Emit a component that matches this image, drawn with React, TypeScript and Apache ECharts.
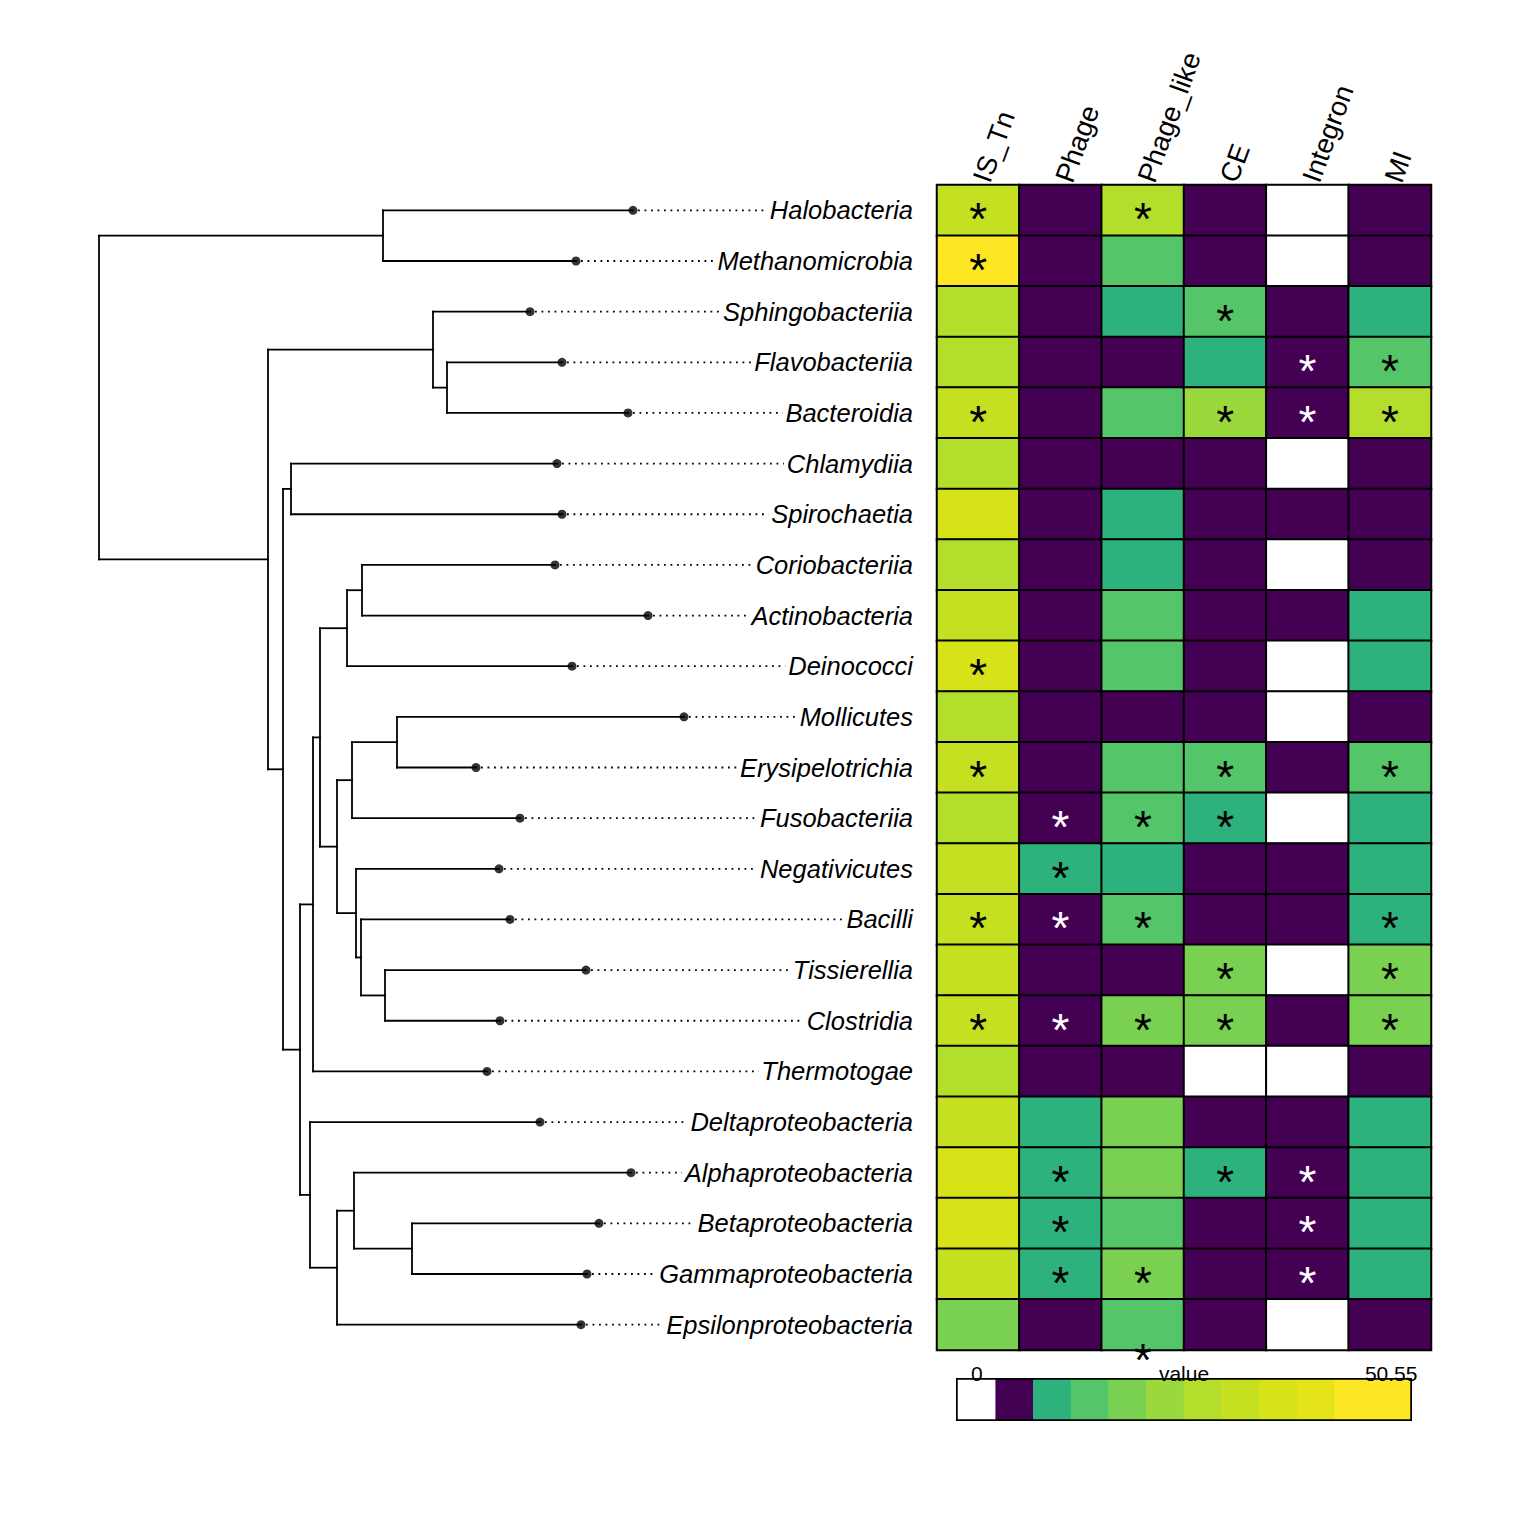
import React, { useEffect, useRef } from "react";
import * as echarts from "echarts";

// ---------- data ----------
const taxa = [
  "Halobacteria", "Methanomicrobia", "Sphingobacteriia", "Flavobacteriia", "Bacteroidia",
  "Chlamydiia", "Spirochaetia", "Coriobacteriia", "Actinobacteria", "Deinococci",
  "Mollicutes", "Erysipelotrichia", "Fusobacteriia", "Negativicutes", "Bacilli",
  "Tissierellia", "Clostridia", "Thermotogae", "Deltaproteobacteria", "Alphaproteobacteria",
  "Betaproteobacteria", "Gammaproteobacteria", "Epsilonproteobacteria",
];
// leaf tip distance from the root (tree units)
const leafTips = [
  53.4, 47.7, 43.1, 46.3, 52.9, 45.8, 46.3, 45.6, 54.9, 47.3, 58.5, 37.7,
  42.1, 40.0, 41.1, 48.7, 40.1, 38.8, 44.1, 53.2, 50.0, 48.8, 48.2,
];
// internal nodes: [id, distance from root, child 1, child 2]
const internalNodes: [string, number, string, string][] = [
  ["root", 0, "A", "B"],
  ["A", 28.4, "Halobacteria", "Methanomicrobia"],
  ["B", 16.9, "C", "D"],
  ["C", 33.4, "Sphingobacteriia", "E"],
  ["E", 34.8, "Flavobacteriia", "Bacteroidia"],
  ["D", 18.4, "F", "G"],
  ["F", 19.2, "Chlamydiia", "Spirochaetia"],
  ["G", 20.1, "H", "I"],
  ["H", 21.4, "J", "Thermotogae"],
  ["J", 22.1, "K", "L"],
  ["K", 24.8, "M", "Deinococci"],
  ["M", 26.3, "Coriobacteriia", "Actinobacteria"],
  ["L", 23.8, "N", "O"],
  ["N", 25.3, "P", "Fusobacteriia"],
  ["P", 29.8, "Mollicutes", "Erysipelotrichia"],
  ["O", 25.7, "Negativicutes", "Q"],
  ["Q", 26.2, "Bacilli", "R"],
  ["R", 28.6, "Tissierellia", "Clostridia"],
  ["I", 21.1, "Deltaproteobacteria", "S"],
  ["S", 23.8, "T", "Epsilonproteobacteria"],
  ["T", 25.5, "Alphaproteobacteria", "U"],
  ["U", 31.3, "Betaproteobacteria", "Gammaproteobacteria"],
];
const treeMax = 81.4;

const elements = ["IS_Tn", "Phage", "Phage_like", "CE", "Integron", "MI"];
const isTn = [31.5, 45, 27.5, 27.5, 31.5, 27.5, 35.5, 27.5, 31.5, 35.5, 27.5, 31.5, 27.5, 31.5, 31.5, 31.5, 31.5, 27.5, 31.5, 35.5, 35.5, 31.5, 19];
const phage = [6, 6, 6, 6, 6, 6, 6, 6, 6, 6, 6, 6, 6, 10.5, 6, 6, 6, 6, 10.5, 10.5, 10.5, 10.5, 6];
const phageLike = [27.5, 14.5, 10.5, 6, 14.5, 6, 10.5, 10.5, 14.5, 14.5, 6, 14.5, 14.5, 10.5, 14.5, 6, 19, 6, 19, 19, 14.5, 19, 14.5];
const ce = [6, 6, 14.5, 10.5, 23, 6, 6, 6, 6, 6, 6, 14.5, 10.5, 6, 6, 19, 19, 0, 6, 10.5, 6, 6, 6];
const integron = [0, 0, 6, 6, 6, 0, 6, 0, 6, 0, 0, 6, 0, 6, 6, 0, 6, 0, 6, 6, 6, 6, 0];
const mi = [6, 6, 10.5, 14.5, 27.5, 6, 6, 6, 10.5, 10.5, 6, 14.5, 10.5, 10.5, 10.5, 19, 19, 6, 10.5, 10.5, 10.5, 10.5, 6];
const columnValues = [isTn, phage, phageLike, ce, integron, mi];

// significant cells (row indices) per column
const starIsTn = [0, 1, 4, 9, 11, 14, 16];
const starPhage = [12, 13, 14, 16, 19, 20, 21];
const starPhageLike = [0, 12, 14, 16, 21, 22];
const starCe = [2, 4, 11, 12, 15, 16, 19];
const starIntegron = [3, 4, 19, 20, 21];
const starMi = [3, 4, 11, 14, 15, 16];
const columnStars = [starIsTn, starPhage, starPhageLike, starCe, starIntegron, starMi];
// star drawn below its cell in the original: [column, row]
const displacedStars = [[2, 22]];

const breaks = [0, 4.21, 8.43, 12.64, 16.85, 21.06, 25.28, 29.49, 33.7, 37.91, 42.13, 46.34, 50.55];
const binColors = [
  "#FFFFFF", "#440154", "#2DB27D", "#54C568", "#7AD151", "#9AD83C",
  "#B4DE2C", "#C5E021", "#D8E219", "#E5E419", "#FDE725", "#FDE725",
];
const legendMinLabel = "0";
const legendMaxLabel = "50.55";
const legendTitle = "value";

const FONT = '"Liberation Sans", Arial, sans-serif';

function buildTree() {
  const pos: Record<string, { x: number; y: number }> = {};
  taxa.forEach((t, i) => (pos[t] = { x: leafTips[i], y: i }));
  const byId: Record<string, [string, number, string, string]> = {};
  internalNodes.forEach((n) => (byId[n[0]] = n));
  const resolve = (id: string): { x: number; y: number } => {
    if (pos[id]) return pos[id];
    const n = byId[id];
    const a = resolve(n[2]);
    const b = resolve(n[3]);
    pos[id] = { x: n[1], y: (a.y + b.y) / 2 };
    return pos[id];
  };
  resolve("root");
  const segs: number[][] = [];
  internalNodes.forEach((n) => {
    const p = pos[n[0]];
    const a = pos[n[2]];
    const b = pos[n[3]];
    segs.push([p.x, a.y, p.x, b.y]);
    segs.push([p.x, a.y, a.x, a.y]);
    segs.push([p.x, b.y, b.x, b.y]);
  });
  return segs;
}

export default function App() {
  const ref = useRef<HTMLDivElement>(null);
  useEffect(() => {
    if (!ref.current) return;
    const chart = echarts.init(ref.current, null, { renderer: "svg" });
    const segs = buildTree();

    const heatData: any[] = [];
    columnValues.forEach((vals, c) => {
      vals.forEach((v, r) => {
        const starred = columnStars[c].includes(r);
        const displaced = displacedStars.some((d) => d[0] === c && d[1] === r);
        const purple = v >= breaks[1] && v < breaks[2];
        heatData.push({
          value: [c, r, v],
          label: {
            show: starred,
            formatter: "*",
            color: purple ? "#FFFFFF" : "#000000",
            offset: displaced ? [0, 35] : [0, 9],
          },
        });
      });
    });

    const legendData = binColors.map((_, i) => [i, 0, (breaks[i] + breaks[i + 1]) / 2]);

    const pieces = binColors.map((color, i) =>
      i === binColors.length - 1
        ? { gte: breaks[i], lte: breaks[i + 1], color }
        : { gte: breaks[i], lt: breaks[i + 1], color }
    );

    chart.setOption({
      animation: false,
      backgroundColor: "#FFFFFF",
      grid: [
        { left: 99, top: 185, width: 814, height: 1165 },
        { left: 937, top: 185, width: 494, height: 1165 },
        { left: 958, top: 1380, width: 452, height: 39, show: true, borderColor: "#000", borderWidth: 4 },
      ],
      xAxis: [
        { gridIndex: 0, type: "value", min: 0, max: treeMax, show: false },
        {
          gridIndex: 1, type: "category", data: elements, position: "top",
          axisLine: { show: false }, axisTick: { show: false }, splitLine: { show: false },
          axisLabel: { show: false },
        },
        {
          gridIndex: 2, type: "category", data: binColors.map((_, i) => String(i)), position: "top",
          z: 10,
          axisLine: { show: false }, axisTick: { show: false }, splitLine: { show: false },
          axisLabel: {
            interval: 0, margin: -4, fontSize: 21, color: "#000", fontFamily: FONT,
            formatter: (_v: string, i: number) => (i === 0 ? legendMinLabel : i === binColors.length - 1 ? legendMaxLabel : ""),
          },
          name: legendTitle, nameLocation: "middle", nameGap: -4, nameMoveOverlap: false,
          nameTextStyle: { fontSize: 21, color: "#000", fontFamily: FONT, verticalAlign: "bottom" },
        },
      ],
      yAxis: [
        { gridIndex: 0, type: "value", min: -0.5, max: taxa.length - 0.5, inverse: true, show: false },
        {
          gridIndex: 1, type: "category", data: taxa, inverse: true,
          axisLine: { show: false }, axisTick: { show: false }, axisLabel: { show: false }, splitLine: { show: false },
        },
        { gridIndex: 2, type: "category", data: ["legend"], show: false },
      ],
      visualMap: {
        type: "piecewise", show: false, seriesIndex: [3, 4], pieces, dimension: 2,
      },
      series: [
        {
          type: "custom", xAxisIndex: 0, yAxisIndex: 0, data: segs, encode: { x: [0, 2], y: [1, 3] },
          renderItem: (_p: any, api: any) => {
            const a = api.coord([api.value(0), api.value(1)]);
            const b = api.coord([api.value(2), api.value(3)]);
            return {
              type: "line",
              shape: { x1: a[0], y1: a[1], x2: b[0], y2: b[1] },
              style: { stroke: "#000", lineWidth: 1.8, lineCap: "square" },
            };
          },
          z: 2,
        },
        {
          type: "custom", xAxisIndex: 0, yAxisIndex: 0,
          data: taxa.map((t, i) => [leafTips[i], i, t]),
          encode: { x: 0, y: 1 },
          renderItem: (params: any, api: any) => {
            const tip = api.coord([api.value(0), api.value(1)]);
            const end = api.coord([treeMax, api.value(1)]);
            const name = taxa[params.dataIndex];
            return {
              type: "group",
              children: [
                {
                  type: "line",
                  shape: { x1: tip[0] + 5, y1: tip[1], x2: end[0], y2: end[1] },
                  style: { stroke: "#000", lineWidth: 1.8, lineDash: [1.8, 4.7] },
                },
                {
                  type: "text",
                  x: end[0], y: end[1],
                  style: {
                    text: name, align: "right", verticalAlign: "middle", fill: "#000",
                    fontSize: 25.5, fontStyle: "italic", fontFamily: FONT,
                    backgroundColor: "#FFFFFF", padding: [0, 0, 0, 3],
                  },
                },
              ],
            };
          },
          z: 3,
        },
        {
          type: "scatter", xAxisIndex: 0, yAxisIndex: 0,
          data: taxa.map((_, i) => [leafTips[i], i]),
          symbol: "circle", symbolSize: 9, itemStyle: { color: "#000" }, z: 5,
        },
        {
          type: "heatmap", xAxisIndex: 1, yAxisIndex: 1, data: heatData,
          itemStyle: { borderColor: "#000", borderWidth: 2 },
          label: { show: false, fontSize: 46, fontFamily: FONT },
          emphasis: { disabled: true },
          z: 2,
        },
        {
          type: "heatmap", xAxisIndex: 2, yAxisIndex: 2, data: legendData,
          itemStyle: { borderWidth: 0 },
          emphasis: { disabled: true },
          z: 2,
        },
        {
          // column headers, rotated 70 degrees
          type: "custom", xAxisIndex: 1, yAxisIndex: 1,
          data: elements.map((_, c) => [c, 0]),
          encode: { x: 0, y: 1 },
          renderItem: (params: any, api: any) => {
            const p = api.coord([api.value(0), 0]);
            const size = api.size([1, 1]);
            return {
              type: "text",
              x: p[0] + 3,
              y: p[1] - size[1] / 2 - 4,
              rotation: (70 * Math.PI) / 180,
              style: {
                text: elements[params.dataIndex], align: "left", verticalAlign: "middle",
                fill: "#000", fontSize: 27.5, fontFamily: FONT,
              },
            };
          },
          z: 4,
        },
      ],
    });
    return () => chart.dispose();
  }, []);
  return (
    <div
      ref={ref}
      style={{ position: "fixed", left: 0, top: 0, width: 1536, height: 1536, background: "#fff" }}
    />
  );
}
